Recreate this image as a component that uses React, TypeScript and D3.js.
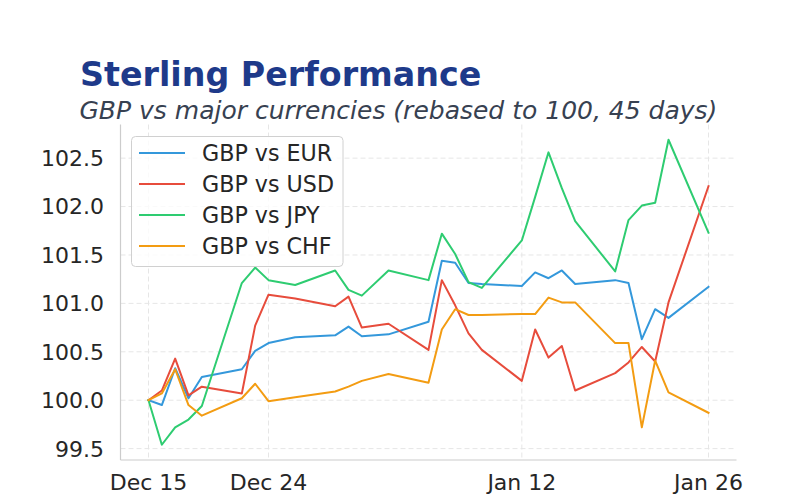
import React from "react";
import * as d3 from "d3";

const dates = [
  "2025-12-15", "2025-12-16", "2025-12-17", "2025-12-18", "2025-12-19",
  "2025-12-22", "2025-12-23", "2025-12-24", "2025-12-26", "2025-12-29",
  "2025-12-30", "2025-12-31", "2026-01-02", "2026-01-05", "2026-01-06",
  "2026-01-07", "2026-01-08", "2026-01-09", "2026-01-12", "2026-01-13",
  "2026-01-14", "2026-01-15", "2026-01-16", "2026-01-19", "2026-01-20",
  "2026-01-21", "2026-01-22", "2026-01-23", "2026-01-26",
];

const gbpEur = [100.0, 99.95, 100.33, 100.02, 100.24, 100.32, 100.51, 100.59, 100.65, 100.67, 100.76, 100.66, 100.68, 100.81, 101.44, 101.42, 101.21, 101.2, 101.18, 101.32, 101.26, 101.34, 101.2, 101.24, 101.21, 100.63, 100.94, 100.85, 101.17];
const gbpUsd = [100.0, 100.1, 100.43, 100.05, 100.14, 100.07, 100.77, 101.09, 101.05, 100.97, 101.07, 100.75, 100.79, 100.52, 101.24, 100.98, 100.69, 100.52, 100.2, 100.73, 100.44, 100.56, 100.1, 100.28, 100.39, 100.55, 100.4, 101.01, 102.21];
const gbpJpy = [100.0, 99.54, 99.72, 99.8, 99.94, 101.21, 101.37, 101.24, 101.19, 101.34, 101.14, 101.08, 101.34, 101.24, 101.72, 101.51, 101.22, 101.16, 101.65, 102.1, 102.56, 102.19, 101.85, 101.33, 101.86, 102.01, 102.04, 102.69, 101.73];
const gbpChf = [100.0, 100.07, 100.32, 99.95, 99.84, 100.02, 100.17, 99.99, 100.03, 100.09, 100.14, 100.2, 100.27, 100.18, 100.73, 100.94, 100.88, 100.88, 100.89, 100.89, 101.06, 101.01, 101.01, 100.59, 100.59, 99.72, 100.41, 100.08, 99.87];

const seriesNames = ["GBP vs EUR", "GBP vs USD", "GBP vs JPY", "GBP vs CHF"];
const seriesColors = ["#3498db", "#e74c3c", "#2ecc71", "#f39c12"];
const seriesValues = [gbpEur, gbpUsd, gbpJpy, gbpChf];

const xTickDates = ["2025-12-15", "2025-12-24", "2026-01-12", "2026-01-26"];
const yTicks = [99.5, 100.0, 100.5, 101.0, 101.5, 102.0, 102.5];

const parse = d3.timeParse("%Y-%m-%d");
const fmtX = d3.timeFormat("%b %d");

export default function App() {
  const W = 800, H = 500;
  const left = 120.5, right = 736.5, top = 124.5, bottom = 460;
  const parsed = dates.map((d) => parse(d) as Date);
  const [x0, x1] = d3.extent(parsed) as [Date, Date];
  const xPad = (+x1 - +x0) * 0.05;
  const x = d3.scaleTime().domain([new Date(+x0 - xPad), new Date(+x1 + xPad)]).range([left, right]);
  const all = seriesValues.flat();
  const [y0, y1] = d3.extent(all) as [number, number];
  const yPad = (y1 - y0) * 0.05;
  const y = d3.scaleLinear().domain([y0 - yPad, y1 + yPad]).range([bottom, top]);

  const font = "DejaVu Sans, sans-serif";
  const line = d3.line<number>().x((_, i) => x(parsed[i])).y((v) => y(v));

  return (
    <svg width={W} height={H} style={{ position: "absolute", left: 0, top: 0, background: "#fff" }} fontFamily={font}>
      <rect x={0} y={0} width={W} height={H} fill="#fff" />
      <text x={80} y={86} fontSize={33.3} fontWeight="bold" fill="#1e3a8a">Sterling Performance</text>
      <text x={79.5} y={119} fontSize={25} fontStyle="italic" fill="#374151">GBP vs major currencies (rebased to 100, 45 days)</text>

      {/* grid */}
      {yTicks.map((t) => (
        <line key={"gy" + t} x1={left} x2={right} y1={y(t)} y2={y(t)} stroke="#e6e6e6" strokeWidth={1} strokeDasharray="5,3" />
      ))}
      {xTickDates.map((t) => {
        const xx = x(parse(t) as Date);
        return <line key={"gx" + t} x1={xx} x2={xx} y1={top} y2={bottom} stroke="#e6e6e6" strokeWidth={1} strokeDasharray="5,3" />;
      })}

      {/* spines */}
      <line x1={left} x2={left} y1={top} y2={bottom} stroke="#cccccc" strokeWidth={1.2} />
      <line x1={left} x2={right} y1={bottom} y2={bottom} stroke="#cccccc" strokeWidth={1.2} />

      {/* tick labels */}
      {yTicks.map((t) => (
        <text key={"ty" + t} x={104} y={y(t)} dy="0.36em" textAnchor="end" fontSize={22} fill="#262626">{t.toFixed(1)}</text>
      ))}
      {xTickDates.map((t) => {
        const d = parse(t) as Date;
        return <text key={"tx" + t} x={x(d)} y={490} textAnchor="middle" fontSize={22} fill="#262626">{fmtX(d)}</text>;
      })}

      {/* lines */}
      {seriesValues.map((vals, si) => (
        <path key={seriesNames[si]} d={line(vals) || ""} fill="none" stroke={seriesColors[si]} strokeWidth={2} strokeLinejoin="round" strokeLinecap="square" />
      ))}

      {/* legend */}
      <rect x={131.5} y={136.5} width={211.5} height={130} rx={4} fill="#ffffff" fillOpacity={0.8} stroke="#d0d0d0" strokeWidth={1} />
      {seriesNames.map((n, i) => {
        const yy = 153 + i * 31;
        return (
          <g key={"lg" + n}>
            <line x1={139} x2={185} y1={yy} y2={yy} stroke={seriesColors[i]} strokeWidth={2} />
            <text x={202} y={yy} dy="0.36em" fontSize={22.2} fill="#262626">{n}</text>
          </g>
        );
      })}
    </svg>
  );
}
